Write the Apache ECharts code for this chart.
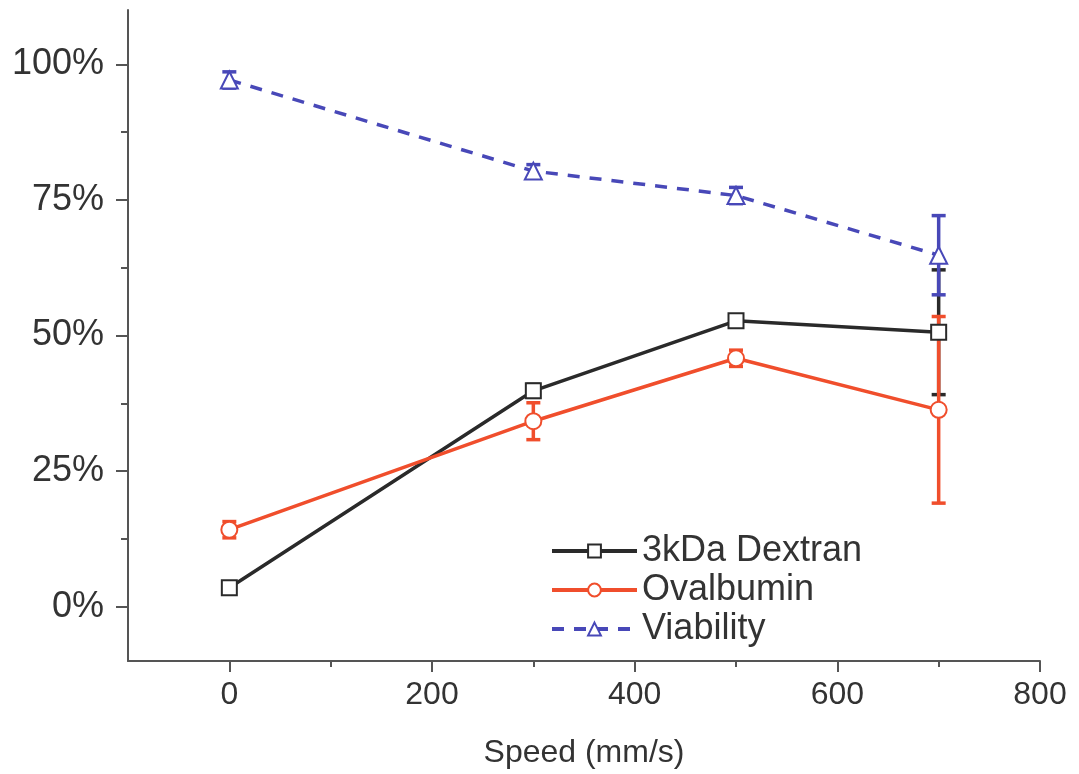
<!DOCTYPE html>
<html>
<head>
<meta charset="utf-8">
<script src="https://cdn.jsdelivr.net/npm/echarts@6/dist/echarts.min.js"></script>
<style>html,body{margin:0;padding:0;background:#fff}#c{width:1079px;height:774px}</style>
</head>
<body>
<div id="c"></div>
<script>
const speeds = [0, 300, 500, 700];
const dextran = [3.5, 39.8, 52.7, 50.6];
const dextranErr = [0.8, 1.2, 1.0, 11.5];
const ovalbumin = [14.2, 34.2, 45.8, 36.3];
const ovalbuminErr = [1.5, 3.4, 1.5, 17.2];
const viability = [97.1, 80.3, 75.8, 64.8];
const viabilityErr = [1.5, 1.2, 1.5, 7.3];
const xTicks = [0, 200, 400, 600, 800];
const xMinorTicks = [100, 300, 500, 700];
const yTicks = [0, 25, 50, 75, 100];
const yMinorTicks = [12.5, 37.5, 62.5, 87.5];

const cBlack = '#2a2a2a', cRed = '#f04e2c', cBlue = '#4848b8';
const font = 'Liberation Sans, Arial, sans-serif';

function pts(vals) { return speeds.map((s, i) => [s, vals[i]]); }
function errData(vals, errs) { return speeds.map((s, i) => [s, vals[i] - errs[i], vals[i] + errs[i]]); }
function errSeries(name, vals, errs, color) {
  return {
    type: 'custom', name: name + ' err', xAxisIndex: 0, yAxisIndex: 0, z: 3,
    data: errData(vals, errs),
    renderItem: function (params, api) {
      const x = api.value(0);
      const lo = api.coord([x, api.value(1)]);
      const hi = api.coord([x, api.value(2)]);
      const w = 7;
      const st = { stroke: color, lineWidth: 3.5 };
      return { type: 'group', children: [
        { type: 'line', shape: { x1: lo[0], y1: lo[1], x2: hi[0], y2: hi[1] }, style: st },
        { type: 'line', shape: { x1: lo[0] - w, y1: lo[1], x2: lo[0] + w, y2: lo[1] }, style: st },
        { type: 'line', shape: { x1: hi[0] - w, y1: hi[1], x2: hi[0] + w, y2: hi[1] }, style: st }
      ]};
    }
  };
}

const chart = echarts.init(document.getElementById('c'));
chart.setOption({
  animation: false,
  backgroundColor: '#fff',
  grid: { left: 128, right: 39, top: 10, bottom: 112, containLabel: false },
  legend: {
    data: ['3kDa Dextran', 'Ovalbumin', 'Viability'],
    orient: 'vertical', left: 545, top: 528,
    itemWidth: 85, itemHeight: 16, itemGap: 3,
    lineStyle: { width: 4 },
    textStyle: { fontFamily: font, fontSize: 36, color: '#333' }
  },
  xAxis: [{
    type: 'value', min: -100, max: 800,
    name: 'Speed (mm/s)', nameLocation: 'middle', nameGap: 76,
    nameTextStyle: { fontFamily: font, fontSize: 32, color: '#333' },
    axisLine: { show: true, onZero: false, lineStyle: { color: '#555', width: 2 } },
    axisTick: { show: true, customValues: xTicks, length: 11, lineStyle: { color: '#555', width: 2 } },
    axisLabel: { customValues: xTicks, fontFamily: font, fontSize: 32, color: '#333', margin: 18 },
    splitLine: { show: false }
  }, {
    type: 'value', min: -100, max: 800, position: 'bottom',
    axisLine: { show: false, onZero: false },
    axisTick: { show: true, customValues: xMinorTicks, length: 6, lineStyle: { color: '#555', width: 2 } },
    axisLabel: { show: false }, splitLine: { show: false }
  }],
  yAxis: [{
    type: 'value', min: -10, max: 110,
    axisLine: { show: true, onZero: false, lineStyle: { color: '#555', width: 2 } },
    axisTick: { show: true, customValues: yTicks, length: 12, lineStyle: { color: '#555', width: 2 } },
    axisLabel: { customValues: yTicks, formatter: v => v + '%', fontFamily: font, fontSize: 36, color: '#333', margin: 24 },
    splitLine: { show: false }
  }, {
    type: 'value', min: -10, max: 110, position: 'left',
    axisLine: { show: false, onZero: false },
    axisTick: { show: true, customValues: yMinorTicks, length: 7, lineStyle: { color: '#555', width: 2 } },
    axisLabel: { show: false }, splitLine: { show: false }
  }],
  series: [
    errSeries('3kDa Dextran', dextran, dextranErr, cBlack),
    errSeries('Ovalbumin', ovalbumin, ovalbuminErr, cRed),
    errSeries('Viability', viability, viabilityErr, cBlue),
    {
      name: '3kDa Dextran', type: 'line', data: pts(dextran), z: 5,
      symbol: 'emptyRect', symbolSize: 15,
      lineStyle: { color: cBlack, width: 3.5 },
      itemStyle: { color: cBlack, borderColor: cBlack, borderWidth: 3 }
    },
    {
      name: 'Ovalbumin', type: 'line', data: pts(ovalbumin), z: 5,
      symbol: 'emptyCircle', symbolSize: 16,
      lineStyle: { color: cRed, width: 3.5 },
      itemStyle: { color: cRed, borderColor: cRed, borderWidth: 3 }
    },
    {
      name: 'Viability', type: 'line', data: pts(viability), z: 5,
      symbol: 'emptyTriangle', symbolSize: 17,
      lineStyle: { color: cBlue, width: 3.5, type: [12, 10] },
      itemStyle: { color: cBlue, borderColor: cBlue, borderWidth: 3 }
    }
  ]
});
</script>
</body>
</html>
